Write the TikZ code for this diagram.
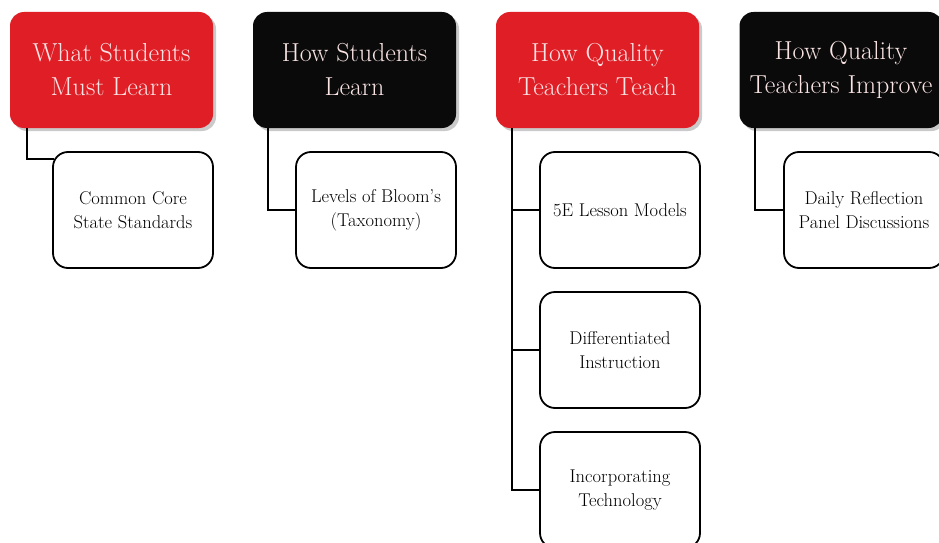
\documentclass[tikz,border=0pt]{standalone}
\usetikzlibrary{shadows}
\definecolor{hdred}{RGB}{224,30,38}
\definecolor{hdblack}{RGB}{10,10,10}
\definecolor{hdtext}{RGB}{250,228,228}
\begin{document}
\begin{tikzpicture}[x=1pt,y=1pt,
  header/.style={rectangle, rounded corners=14pt, minimum width=203pt, minimum height=116pt,
    align=center, text=hdtext, font=\fontsize{26}{34}\selectfont, inner sep=0pt,
    drop shadow={shadow xshift=3pt, shadow yshift=-3pt, fill=black!35, opacity=0.6}},
  redhead/.style={header, fill=hdred},
  blackhead/.style={header, fill=hdblack},
  child/.style={rectangle, rounded corners=15pt, draw=black, line width=1.8pt, fill=white,
    minimum width=160pt, minimum height=116pt, align=center, text=black,
    font=\fontsize{18.5}{24}\selectfont, inner sep=0pt},
  link/.style={draw=black, line width=1.8pt}]
\useasboundingbox (0,0) rectangle (939,-543);
% headers
\node[redhead]   (h1) at (111.5,-70) {What Students\\Must Learn};
\node[blackhead] (h2) at (354.5,-70) {How Students\\Learn};
\node[redhead]   (h3) at (597.5,-70) {How Quality\\Teachers Teach};
\node[blackhead] (h4) at (841,-70) {How Quality\\Teachers Improve};
% children
\node[child] (c1) at (133,-210) {Common Core\\State Standards};
\node[child] (c2) at (376,-210) {Levels of Bloom's\\(Taxonomy)};
\node[child] (c3a) at (620,-210) {5E Lesson Models};
\node[child] (c3b) at (620,-350) {Differentiated\\Instruction};
\node[child] (c3c) at (620,-490) {Incorporating\\Technology};
\node[child] (c4) at (864,-210) {Daily Reflection\\Panel Discussions};
% coordinates on header bottoms
\coordinate (s1) at ([xshift=17pt]h1.south west);
\coordinate (s2) at ([xshift=15pt]h2.south west);
\coordinate (s3) at ([xshift=16pt]h3.south west);
\coordinate (s4) at ([xshift=16pt]h4.south west);
\coordinate (e1) at ([yshift=-8pt,xshift=1.5pt]c1.north west);
% connectors
\draw[link] (s1) |- (e1);
\draw[link] (s2) |- (c2.west);
\draw[link] (s3) |- (c3c.west);
\draw[link] (s3) |- (c3a.west);
\draw[link] (s3) |- (c3b.west);
\draw[link] (s4) |- (c4.west);
\end{tikzpicture}
\end{document}
